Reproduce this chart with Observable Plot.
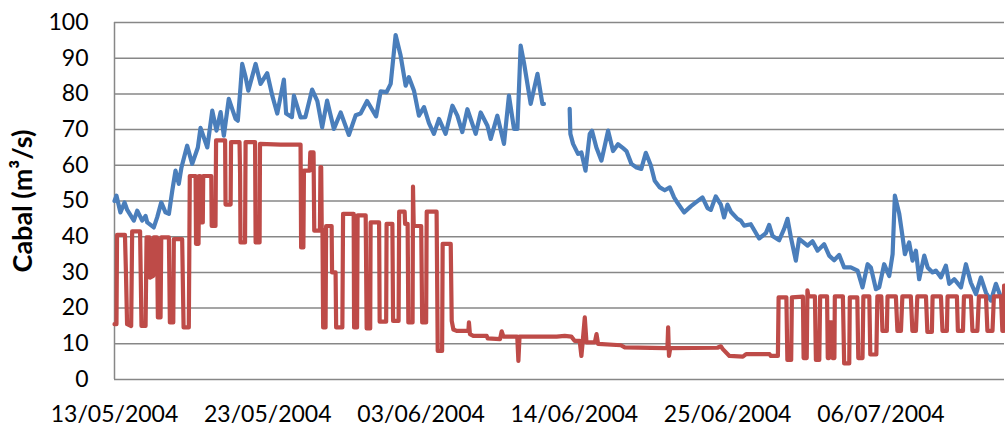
<!DOCTYPE html>
<html>
<head>
<meta charset="utf-8">
<script src="https://cdn.jsdelivr.net/npm/d3@7"></script>
<script src="https://cdn.jsdelivr.net/npm/@observablehq/plot@0.6"></script>
<style>
  html, body { margin: 0; padding: 0; background: #fff; }
  #chart svg { display: block; }
</style>
</head>
<body>
<div id="chart"></div>
<script>
// x values are days elapsed since 13/05/2004 00:00
const yTitle = "Cabal (m³/s)";
const yTicks = [0, 10, 20, 30, 40, 50, 60, 70, 80, 90, 100];
const xTickDays = [0, 10.85, 21.7, 32.55, 43.4, 54.25];
const xTickLabels = ["13/05/2004", "23/05/2004", "03/06/2004", "14/06/2004", "25/06/2004", "06/07/2004"];

// Blue series: natural flow (null = missing data gap)
const blueSeries = [
  [0,50],[0.14,51.5],[0.42,46.8],[0.71,49.6],[0.9,47.5],[1.37,44.5],[1.61,47.3],[1.96,44.5],[2.2,45.8],[2.32,44],
  [2.78,42.6],[3.02,45.4],[3.31,49.6],[3.61,46.8],[3.85,46.4],[4.09,52.9],[4.32,58.5],[4.55,54.8],[4.74,59.4],[5.14,65.5],
  [5.5,60.4],[5.9,65],[6.09,70.5],[6.57,65],[6.92,75.3],[7.22,69.7],[7.51,74.9],[7.74,68.3],[8.09,78.6],[8.57,73],
  [8.73,72.5],[8.92,81.9],[9.04,88.4],[9.28,84.7],[9.47,80.9],[9.99,88.4],[10.34,82.8],[10.81,85.8],[11.17,79.5],[11.52,74.5],
  [11.99,84],[12.15,74.5],[12.56,73.5],[12.7,79.5],[13.17,73.4],[13.51,73.5],[13.99,81.2],[14.36,78],[14.7,70.6],[15.05,78.1],
  [15.53,70.2],[16.01,74.8],[16.59,68.5],[17.07,74],[17.42,74.5],[17.88,78],[18.52,73.7],[18.84,80.7],[19.26,80.5],[19.55,82.8],
  [19.9,96.5],[20.25,90.8],[20.61,82.3],[20.84,84.7],[21.2,80.9],[21.55,73.9],[21.91,76.3],[22.26,71.8],[22.61,68.8],[22.97,73],
  [23.44,68.8],[23.92,76.7],[24.27,73.9],[24.62,69.3],[24.98,75.7],[25.57,68.8],[25.92,74.8],[26.4,71.1],[26.63,67.4],[27.1,73.9],
  [27.57,66],[27.92,79.5],[28.28,70.2],[28.52,70.2],[28.75,93.5],[28.99,88.6],[29.46,77.2],[29.94,85.6],[30.29,77.2],[30.4,77.2],
  [31.3,null],
  [32.22,75.8],[32.27,68.8],[32.46,66],[32.81,63.2],[33.05,63.6],[33.34,58.5],[33.64,68.8],[33.8,69.7],[34.11,65],[34.47,61.3],
  [34.94,69.7],[35.29,64],[35.64,65.9],[36,64.8],[36.24,64],[36.59,60.4],[36.95,59.4],[37.29,59],[37.61,63.5],[37.96,60],
  [38.24,55.7],[38.6,53.8],[38.95,53],[39.31,53.8],[39.61,51],[39.85,49.5],[40.32,46.8],[40.79,48.5],[41.15,49.6],[41.62,51],
  [41.98,48],[42.21,47.5],[42.56,51.3],[42.92,49],[43.15,45.4],[43.39,49],[43.63,47],[44.1,45],[44.33,44.5],[44.57,43.1],
  [45.04,43.5],[45.63,39.5],[46.11,41],[46.34,43.3],[46.58,40.2],[47.05,39],[47.4,42.2],[47.64,45],[47.88,39.8],[48.23,33.3],
  [48.46,39.4],[49.06,37.5],[49.41,38.7],[49.77,36.1],[50.23,37.9],[50.59,34.7],[50.94,33.4],[51.3,34.9],[51.65,31.4],[52.12,31.4],
  [52.6,30.5],[52.95,25.8],[53.31,32.3],[53.54,31.4],[53.9,25.3],[54.13,25.8],[54.48,32.3],[54.84,29],[55.08,35.1],[55.24,51.5],
  [55.55,46.4],[55.79,39.8],[55.95,35.1],[56.25,38.4],[56.49,33.3],[56.73,36.1],[56.96,28.1],[57.32,34.7],[57.56,31.4],[57.91,30],
  [58.14,30.5],[58.5,28.6],[58.85,31.9],[59.09,26.8],[59.44,28.1],[59.92,25.8],[60.27,32.3],[60.62,27.1],[60.98,23.9],[61.33,28.6],
  [61.69,24.3],[62.04,22.1],[62.39,26.8],[62.75,23],[63.03,21.5]
];

// Red series: regulated (turbined) flow
const redSeries = [
  [0,15.5],[0.14,15.5],[0.18,40.5],[0.74,40.5],[0.81,30],[0.89,15.5],[1.18,15],[1.25,41.5],[1.81,41.5],[1.91,15],
  [2.2,15],[2.27,39.8],[2.48,39.8],[2.51,28.5],[2.74,29],[2.78,39.8],[3.01,39.8],[3.07,17.4],[3.26,17.4],[3.31,39.8],
  [3.85,39.8],[3.92,16],[4.16,16],[4.2,39.3],[4.79,39.3],[4.89,14.6],[5.26,14.6],[5.33,57],[5.74,57],[5.77,38],
  [5.95,38],[5.98,57],[6.06,57],[6.13,44],[6.25,44],[6.28,57],[6.85,57],[6.88,43],[7.15,43],[7.19,67],
  [7.83,67],[7.86,49],[8.22,49],[8.25,66.5],[8.85,66.5],[8.89,57.6],[8.92,38.4],[9.24,38.4],[9.28,66.5],[9.95,66.5],
  [9.99,38.4],[10.27,38.4],[10.3,66],[11.76,65.8],[13.17,65.8],[13.21,37],[13.37,37],[13.41,58.5],[13.82,58.5],[13.86,63.6],
  [14.09,63.6],[14.14,41.7],[14.54,41.7],[14.58,59.5],[14.63,59.5],[14.67,42],[14.72,42],[14.77,14.6],[14.94,14.6],[14.98,43],
  [15.37,43],[15.4,30],[15.65,30],[15.69,14.6],[16.13,14.6],[16.18,46.4],[16.93,46.4],[16.96,14.6],[17.17,14.6],[17.21,46],
  [17.78,46],[17.85,14.3],[18.1,14.3],[18.13,44],[18.73,44],[18.77,16.2],[19.23,16.2],[19.26,43.6],[19.67,43.6],[19.72,16.4],
  [20.11,16.4],[20.15,47],[20.54,47],[20.57,43.6],[20.75,43.6],[20.8,16],[21.1,16],[21.13,54],[21.18,43],[21.71,43],
  [21.78,16],[22.06,16],[22.1,47],[22.8,47],[22.88,8],[23.19,8],[23.23,38],[23.8,38],[23.87,16.4],[23.99,14],
  [24.22,13.6],[25.05,13.6],[25.09,16],[25.16,12.7],[25.4,12.2],[26.35,12.2],[26.42,11.5],[27.29,11.3],[27.41,13.5],[27.53,12],
  [28.51,12],[28.59,5.2],[28.67,12],[31.3,12],[31.87,12.2],[32.34,12],[32.58,10.8],[32.93,10.8],[33.05,6.6],[33.14,10.5],
  [33.29,17.4],[33.41,10.4],[34,10.4],[34.12,12.7],[34.23,10],[35.84,9.6],[36.12,9],[38.95,8.8],[39.14,8.8],[39.19,14.6],
  [39.25,6.6],[39.34,8.8],[42.68,8.9],[42.92,9.3],[43.06,8.5],[43.53,6.6],[44.48,6.4],[44.71,7.1],[46.37,7.1],[46.46,6.6],
  [46.96,6.6],[47.01,23],[47.56,23],[47.63,5.5],[47.9,5.5],[47.95,23],[48.73,23.2],[48.78,6],[49,6],[49.05,25],
  [49.12,23.3],[49.58,23.3],[49.65,5.5],[49.89,5.5],[49.95,23.3],[50.44,23.3],[50.49,6],[50.58,6],[50.62,16],[50.79,16],
  [50.83,6],[50.96,6],[50.99,23.3],[51.56,23.3],[51.65,4.5],[52.01,4.5],[52.05,23],[52.58,23],[52.65,6],[52.95,6],
  [53.01,23.3],[53.43,23.3],[53.5,7],[53.93,7],[54,23.3],[54.28,23.3],[54.36,13.6],[54.67,13.6],[54.72,23.3],[55.31,23.3],
  [55.42,13.6],[55.67,13.6],[55.77,23.3],[56.37,23.3],[56.48,13.6],[56.73,13.6],[56.83,23.3],[57.44,23.3],[57.54,13.3],[57.86,13.3],
  [57.91,23.3],[58.5,23.3],[58.61,13.6],[58.92,13.6],[58.97,23.3],[59.63,23.3],[59.7,13.6],[60.06,13.6],[60.13,23.3],[60.62,23.3],
  [60.73,13.6],[61.08,13.6],[61.19,23.3],[61.69,23.3],[61.79,13.6],[62.15,13.6],[62.25,23.3],[62.75,23.3],[62.85,13.6],[62.92,13.6],
  [62.97,26.3],[63.03,26.3]
];

const blue = blueSeries.map(([day, q]) => ({day, q}));
const red = redSeries.map(([day, q]) => ({day, q}));
const labelOf = new Map(xTickDays.map((d, i) => [d, xTickLabels[i]]));

const gridColor = "#878787";

const chart = Plot.plot({
  width: 1005,
  height: 426,
  marginLeft: 114,
  marginRight: 1,
  marginTop: 22,
  marginBottom: 47,
  style: {fontFamily: "Lato, sans-serif", fontSize: "23px", color: "#000", background: "#fff"},
  x: {domain: [0, 63]},
  y: {domain: [0, 100]},
  marks: [
    Plot.gridY(yTicks, {stroke: gridColor, strokeOpacity: 1, strokeWidth: 1.5}),
    Plot.ruleX([0], {stroke: gridColor, strokeWidth: 1.5}),
    Plot.axisY(yTicks, {tickSize: 0, tickPadding: 26, fontSize: 23, label: null}),
    Plot.axisX(xTickDays, {tickSize: 0, tickPadding: 26, fontSize: 23, label: null, tickFormat: d => labelOf.get(d)}),
    Plot.line(blue, {x: "day", y: "q", stroke: "#4A7EBB", strokeWidth: 4.2, strokeLinejoin: "round", strokeLinecap: "round"}),
    Plot.line(red, {x: "day", y: "q", stroke: "#BE4B48", strokeWidth: 4.2, strokeLinejoin: "round", strokeLinecap: "round"}),
    Plot.text([yTitle], {frameAnchor: "left", textAnchor: "middle", text: d => d, rotate: -90, dx: -91, fontSize: 27, fontWeight: "bold", fill: "#000"})
  ]
});

document.getElementById("chart").appendChild(chart);
</script>
</body>
</html>
